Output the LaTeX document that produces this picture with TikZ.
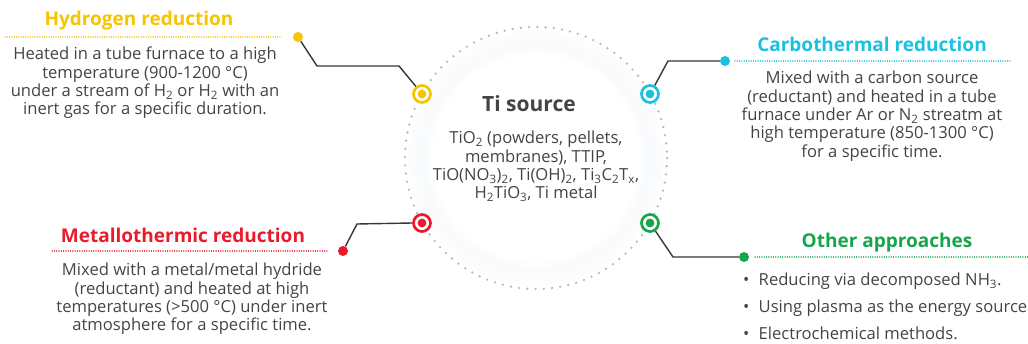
\documentclass[tikz,border=0pt]{standalone}
\usepackage{fontspec}
\setmainfont{Open Sans}
\usetikzlibrary{positioning}
\definecolor{ylw}{RGB}{246,196,0}
\definecolor{cyn}{RGB}{28,192,226}
\definecolor{rd}{RGB}{234,26,44}
\definecolor{grn}{RGB}{22,166,74}
\definecolor{txt}{RGB}{68,68,68}
\definecolor{haze}{RGB}{205,218,232}
\newcommand{\sub}[1]{\textsubscript{#1}}

\begin{document}
\begin{tikzpicture}[x=1pt,y=-1pt,
		ring/.style={circle,draw=#1,line width=2.7pt,fill=white,minimum size=17pt,inner sep=0pt,
			path picture={\fill[#1] (path picture bounding box.center) circle (4.4pt);}},
		tip/.style={circle,fill=#1,minimum size=10pt,inner sep=0pt},
		headline/.style={draw=#1,line width=1.3pt,dash pattern=on 0.01pt off 2.3pt,line cap=round},
		link/.style={draw=txt!80!black,line width=1.4pt},
		title/.style={text=#1,anchor=base,inner sep=0pt,font=\fontsize{19}{22}\selectfont\bfseries},
		body/.style={text=txt,align=center,anchor=north,inner sep=0pt,font=\fontsize{16.6}{18.3}\selectfont}]
		\useasboundingbox (0,0) rectangle (1028,344);
		\coordinate (Ctr) at (536,158);
		\foreach \r/\c in {126/4,122/8,118/12,114/14,110/10,106/5}
			\draw[line width=4.2pt,haze!\c!white] (Ctr) circle (\r);
		\draw[gray!55,line width=2.6pt,line cap=round,dash pattern=on 0pt off 8.25pt] (Ctr) circle (131);
		\node[text=txt,anchor=base,inner sep=0pt,font=\fontsize{21}{24}\selectfont\bfseries] (Ti) at (529,112) {Ti source};
		\node[body] (TiBody) at (536,131) {TiO\sub{2} (powders, pellets,\\ membranes), TTIP,\\ TiO(NO\sub{3})\sub{2}, Ti(OH)\sub{2}, Ti\sub{3}C\sub{2}T\sub{x},\\ H\sub{2}TiO\sub{3}, Ti metal};
		\node[ring=ylw] (Hring) at (422,94) {};
		\node[ring=cyn] (Cring) at (650,94) {};
		\node[ring=rd] (Mring) at (422,223) {};
		\node[ring=grn] (Oring) at (650,223) {};
		\node[tip=ylw] (Hdot) at (298,37) {};
		\node[tip=cyn] (Cdot) at (725,61) {};
		\node[tip=rd] (Mdot) at (343,251) {};
		\node[tip=grn] (Odot) at (744,257) {};
		\coordinate (Hend) at (5,37);
		\coordinate (Cend) at (1012,61);
		\coordinate (Mend) at (50,251);
		\coordinate (Oend) at (1040,257);
		\draw[link] (Hring.129) -- (399,66) -- (317,66) -- (Hdot);
		\draw[link] (Cring.61) -- (668,61) -- (Cdot);
		\draw[link] (Mring.180) -- (357,224) -- (Mdot);
		\draw[link] (Oring.-56) -- (673,257) -- (Odot);
		\draw[headline=ylw,shorten <=18pt] (Hdot.center) -- (Hend);
		\draw[headline=cyn,shorten <=10pt] (Cdot.center) -- (Cend);
		\draw[headline=rd,shorten <=16pt] (Mdot.center) -- (Mend);
		\draw[headline=grn,shorten <=11pt] (Odot.center) -- (Oend);
		\node[title=ylw] (Htitle) at (139,26) {Hydrogen reduction};
		\node[title=cyn] (Ctitle) at (872,52) {Carbothermal reduction};
		\node[title=rd] (Mtitle) at (183,243) {Metallothermic reduction};
		\node[title=grn] (Otitle) at (887,248) {Other approaches};
		\node[body] (Hbody) at (145,47) {Heated in a tube furnace to a high\\ temperature (900-1200 °C)\\ under a stream of H\sub{2} or H\sub{2} with an\\ inert gas for a specific duration.};
		\node[body] (Cbody) at (872,71) {Mixed with a carbon source\\ (reductant) and heated in a tube\\ furnace under Ar or N\sub{2} streatm at\\ high temperature (850-1300 °C)\\ for a specific time.};
		\node[body] (Mbody) at (192,263) {Mixed with a metal/metal hydride\\ (reductant) and heated at high\\ temperatures (>500 °C) under inert\\ atmosphere for a specific time.};
		\node[body,align=left,anchor=north west] (Obody) at (743,273) {• \hspace{5pt}Reducing via decomposed NH\sub{3}.\\[8.5pt] • \hspace{5pt}Using plasma as the energy source.\\[8.5pt] • \hspace{5pt}Electrochemical methods.};
	\end{tikzpicture}
\end{document}
